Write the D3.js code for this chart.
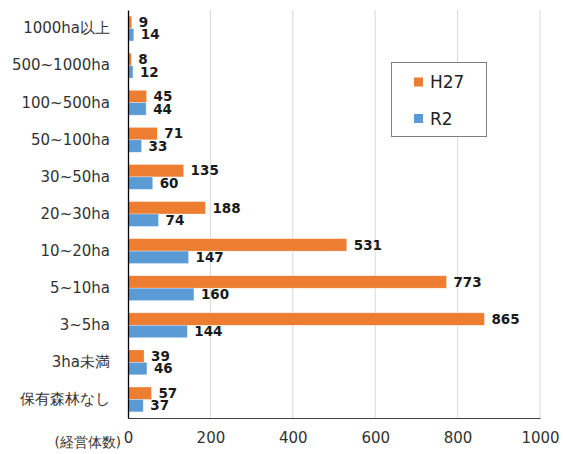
<!DOCTYPE html>
<html><head><meta charset="utf-8">
<script src="https://cdn.jsdelivr.net/npm/d3@7"></script>
<style>body{margin:0;background:#fff}svg{display:block}</style>
</head><body>
<script>
const categories = ["1000ha以上","500~1000ha","100~500ha","50~100ha","30~50ha","20~30ha","10~20ha","5~10ha","3~5ha","3ha未満","保有森林なし"];
const seriesNames = ["H27","R2"];
const h27 = [9,8,45,71,135,188,531,773,865,39,57];
const r2 = [14,12,44,33,60,74,147,160,144,46,37];
const ticks = [0,200,400,600,800,1000];
const colors = ["#ED7D31","#5B9BD5"];

const W=563,H=454;
const m={l:128,r:23,t:10,b:36};
const svg=d3.select("body").append("svg").attr("width",W).attr("height",H);
const x=d3.scaleLinear().domain([0,1000]).range([m.l,W-m.r]);
const y=d3.scaleBand().domain(categories).range([m.t,H-m.b]).paddingInner(0.33).paddingOuter(0.165);
const sub=d3.scaleBand().domain(seriesNames).range([0,y.bandwidth()]);
const font="DejaVu Sans, Verdana, sans-serif";

// grid
svg.append("g").selectAll("line").data(ticks.slice(1)).join("line")
  .attr("x1",d=>x(d)).attr("x2",d=>x(d)).attr("y1",m.t).attr("y2",H-m.b)
  .attr("stroke","#d9d9d9").attr("stroke-width",1);

const data=categories.map((c,i)=>({c,vals:[h27[i],r2[i]]}));
const g=svg.append("g").selectAll("g").data(data).join("g").attr("transform",d=>`translate(0,${y(d.c)})`);
g.selectAll("rect").data(d=>d.vals.map((v,k)=>({v,k}))).join("rect")
  .attr("x",x(0)).attr("y",d=>sub(seriesNames[d.k])).attr("width",d=>x(d.v)-x(0)).attr("height",sub.bandwidth())
  .attr("fill",d=>colors[d.k]).attr("stroke","#fff").attr("stroke-opacity",0.5).attr("stroke-width",0.6);
g.selectAll("text").data(d=>d.vals.map((v,k)=>({v,k}))).join("text")
  .attr("x",d=>x(d.v)+7).attr("y",d=>sub(seriesNames[d.k])+sub.bandwidth()/2).attr("dy","0.35em")
  .attr("font-family",font).attr("font-size",13.5).attr("font-weight","bold").attr("fill","#1a1a1a")
  .text(d=>d.v);

// axes
const ax=svg.append("g").attr("transform",`translate(0,${H-m.b})`)
  .call(d3.axisBottom(x).tickValues(ticks).tickFormat(d3.format("d")).tickSize(0).tickPadding(14));
ax.select(".domain").attr("stroke","#404040");
ax.selectAll("text").attr("font-family",font).attr("font-size",15).attr("fill","#333");
const ay=svg.append("g").attr("transform",`translate(${m.l},0)`)
  .call(d3.axisLeft(y).tickSize(0).tickPadding(18));
ay.select(".domain").attr("stroke","#000").attr("stroke-width",1.3);
ay.selectAll("text").attr("font-family",font).attr("font-size",15).attr("fill","#333");

svg.append("text").attr("x",121).attr("y",447).attr("text-anchor","end")
  .attr("font-family",font).attr("font-size",13.5).attr("fill","#333").text("(経営体数)");

// legend
const lg=svg.append("g");
lg.append("rect").attr("x",391.5).attr("y",62.5).attr("width",95).attr("height",74)
  .attr("fill","#fff").attr("stroke","#7f7f7f");
seriesNames.forEach((s,i)=>{
  lg.append("rect").attr("x",414).attr("y",77.5+i*36.5).attr("width",9).attr("height",9).attr("fill",colors[i]);
  lg.append("text").attr("x",430).attr("y",82+i*36.5).attr("dy","0.36em")
    .attr("font-family",font).attr("font-size",17).attr("fill","#222").text(s);
});
</script>
</body></html>
